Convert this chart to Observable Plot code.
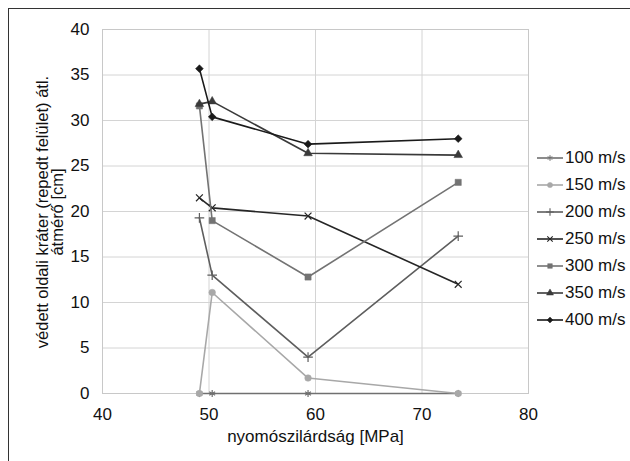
<!DOCTYPE html>
<html>
<head>
<meta charset="utf-8">
<script src="https://cdn.jsdelivr.net/npm/d3@7"></script>
<script src="https://cdn.jsdelivr.net/npm/@observablehq/plot@0.6"></script>
<style>
  html, body { margin: 0; padding: 0; background: #fff; }
  body { width: 630px; height: 461px; position: relative; overflow: hidden; font-family: "Liberation Sans", Arial, sans-serif; }
  #border { position: absolute; left: 8px; top: 8px; width: 640px; height: 470px; border: 1.5px solid #333; box-sizing: border-box; }
  #chart { position: absolute; left: 0; top: 0; }
  #ytitle { position: absolute; left: 50px; top: 212px; transform: translate(-50%, -50%) rotate(-90deg); font-size: 16.5px; line-height: 15px; text-align: center; white-space: nowrap; color: #111; }
  #legend { position: absolute; left: 537px; top: 145px; font-size: 17px; color: #111; }
  .item { display: flex; align-items: center; height: 26.9px; }
  .item svg { margin-right: 2px; }
</style>
</head>
<body>
<div id="border"></div>
<div id="chart"></div>
<div id="ytitle">védett oldali kráter (repedt felület) átl.<br>átmérő [cm]</div>
<div id="legend"></div>
<script>
const series = ["100 m/s", "150 m/s", "200 m/s", "250 m/s", "300 m/s", "350 m/s", "400 m/s"];
const strength = [49.1, 50.3, 59.3, 73.4];
const v100 = [0, 0, 0, 0];
const v150 = [0, 11.1, 1.7, 0];
const v200 = [19.3, 13.0, 4.0, 17.3];
const v250 = [21.5, 20.4, 19.5, 12.0];
const v300 = [31.6, 19.0, 12.8, 23.2];
const v350 = [31.8, 32.1, 26.4, 26.2];
const v400 = [35.7, 30.4, 27.4, 28.0];
const xTicks = [40, 50, 60, 70, 80];
const yTicks = [0, 5, 10, 15, 20, 25, 30, 35, 40];

const values = [v100, v150, v200, v250, v300, v350, v400];
const colors = ["#707070", "#a8a8a8", "#5e5e5e", "#262626", "#737373", "#3a3a3a", "#1a1a1a"];
const symbols = ["asterisk", "circle", "plus", "times", "square", "triangle", "diamond2"];
const d3symbols = [d3.symbolAsterisk, d3.symbolCircle, d3.symbolPlus, d3.symbolTimes, d3.symbolSquare, d3.symbolTriangle, d3.symbolDiamond2];
const filled = [false, true, false, false, true, true, true];
const sizes = [3.2, 3.3, 3.2, 3.2, 3.5, 3.2, 3.5];

const data = [];
series.forEach((s, i) => values[i].forEach((v, j) => data.push({series: s, x: strength[j], y: v, i})));

const marks = [
  Plot.gridX(xTicks, {stroke: "#d4d4d4", strokeOpacity: 1}),
  Plot.gridY(yTicks, {stroke: "#d4d4d4", strokeOpacity: 1}),
  Plot.frame({stroke: "#c8c8c8"}),
  Plot.axisX(xTicks, {tickSize: 0, tickPadding: 14, fontSize: 17, label: null, fill: "#111"}),
  Plot.axisY(yTicks, {tickSize: 0, tickPadding: 13, fontSize: 17, label: null, fill: "#111"}),
  Plot.text(["nyomószilárdság [MPa]"], {frameAnchor: "bottom", dy: 48, fontSize: 17, fill: "#111"})
];
series.forEach((s, i) => {
  const d = data.filter(p => p.i === i);
  marks.push(Plot.line(d, {x: "x", y: "y", stroke: colors[i], strokeWidth: 1.6}));
  marks.push(Plot.dot(d, {
    x: "x", y: "y", symbol: () => symbols[i], r: sizes[i],
    fill: filled[i] ? colors[i] : "none",
    stroke: colors[i], strokeWidth: filled[i] ? 0.5 : 1.2
  }));
});

const chart = Plot.plot({
  width: 630, height: 461,
  marginLeft: 102, marginRight: 102, marginTop: 29, marginBottom: 68,
  x: {domain: [40, 80]},
  y: {domain: [0, 40]},
  symbol: {type: "identity"},
  style: {fontFamily: "Liberation Sans, Arial, sans-serif", background: "transparent"},
  marks
});
document.getElementById("chart").appendChild(chart);

// legend
const legend = d3.select("#legend");
series.forEach((s, i) => {
  const item = legend.append("div").attr("class", "item");
  const svg = item.append("svg").attr("width", 26).attr("height", 12);
  svg.append("line").attr("x1", 0).attr("x2", 26).attr("y1", 6).attr("y2", 6)
    .attr("stroke", colors[i]).attr("stroke-width", 1.6);
  const sym = d3.symbol(d3symbols[i], Math.PI * 2.6 * 2.6);
  svg.append("path").attr("d", sym()).attr("transform", "translate(13,6)")
    .attr("fill", filled[i] ? colors[i] : "none").attr("stroke", colors[i])
    .attr("stroke-width", filled[i] ? 0.5 : 1.1);
  item.append("span").text(s);
});
</script>
</body>
</html>
